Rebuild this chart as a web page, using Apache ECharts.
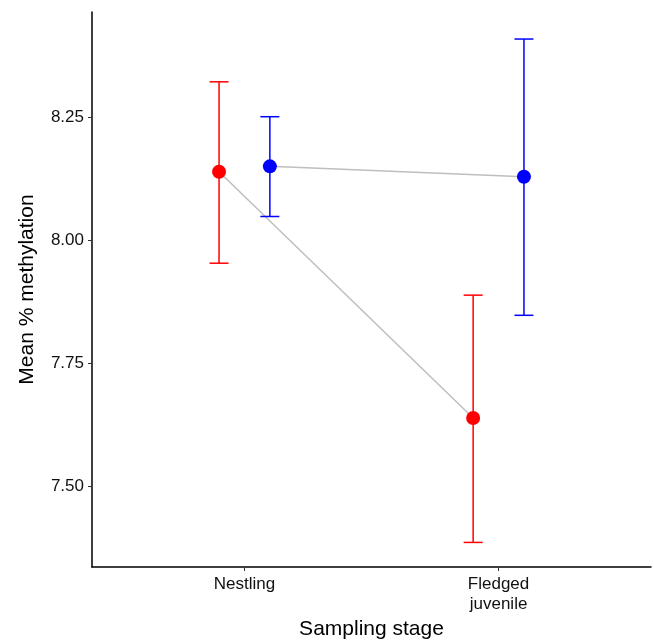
<!DOCTYPE html>
<html>
<head>
<meta charset="utf-8">
<script src="https://cdn.jsdelivr.net/npm/echarts@6/dist/echarts.min.js"></script>
<style>
  html, body { margin: 0; padding: 0; background: #fff; }
  #chart { width: 654px; height: 642px; }
</style>
</head>
<body>
<div id="chart"></div>
<script>
// data
const stages = ["Nestling", "Fledged\njuvenile"];
const yTicks = [7.5, 7.75, 8.0, 8.25];

const redMean = [8.140, 7.639];
const redLow = [7.954, 7.386];
const redHigh = [8.323, 7.889];

const blueMean = [8.151, 8.130];
const blueLow = [8.049, 7.848];
const blueHigh = [8.252, 8.410];

const dodge = 0.1;
const font = "Liberation Sans, Arial, Helvetica, sans-serif";

// x positions: stage index 1,2 shifted for dodge
const pts = (means, shift) => means.map((v, i) => [i + 1 + shift, v]);
const bars = (low, high, shift) => low.map((v, i) => [i + 1 + shift, v, high[i]]);

const errorBar = color => (params, api) => {
  const x = api.value(0);
  const lo = api.coord([x, api.value(1)]);
  const hi = api.coord([x, api.value(2)]);
  const w = 9.5;
  const style = { stroke: color, lineWidth: 1.5 };
  return {
    type: "group",
    children: [
      { type: "line", shape: { x1: lo[0], y1: lo[1], x2: hi[0], y2: hi[1] }, style },
      { type: "line", shape: { x1: lo[0] - w, y1: lo[1], x2: lo[0] + w, y2: lo[1] }, style },
      { type: "line", shape: { x1: hi[0] - w, y1: hi[1], x2: hi[0] + w, y2: hi[1] }, style }
    ]
  };
};

const chart = echarts.init(document.getElementById("chart"));

chart.setOption({
  animation: false,
  grid: { left: 92, right: 3, top: 12, bottom: 75, outerBoundsMode: "none" },
  xAxis: {
    type: "value",
    min: 0.4,
    max: 2.6,
    splitLine: { show: false },
    axisLine: { lineStyle: { color: "#000", width: 1.5 } },
    axisTick: { show: true, customValues: [1, 2], length: 4, lineStyle: { color: "#333" } },
    axisLabel: {
      customValues: [1, 2],
      formatter: v => stages[Math.round(v) - 1],
      color: "#111",
      fontSize: 17,
      fontFamily: font,
      lineHeight: 20,
      margin: 7
    },
    name: "Sampling stage",
    nameLocation: "middle",
    nameGap: 51,
    nameTextStyle: { color: "#000", fontSize: 21, fontFamily: font }
  },
  yAxis: {
    type: "value",
    min: 7.336,
    max: 8.465,
    splitLine: { show: false },
    axisLine: { show: true, lineStyle: { color: "#000", width: 1.5 } },
    axisTick: { show: true, customValues: yTicks, length: 4, lineStyle: { color: "#333" } },
    axisLabel: {
      customValues: yTicks,
      formatter: v => v.toFixed(2),
      color: "#111",
      fontSize: 17,
      fontFamily: font,
      margin: 8
    },
    name: "Mean % methylation",
    nameLocation: "middle",
    nameGap: 54,
    nameTextStyle: { color: "#000", fontSize: 21, fontFamily: font }
  },
  series: [
    {
      type: "line",
      data: pts(redMean, -dodge),
      symbol: "none",
      lineStyle: { color: "#bebebe", width: 1.5 },
      z: 1
    },
    {
      type: "line",
      data: pts(blueMean, dodge),
      symbol: "none",
      lineStyle: { color: "#bebebe", width: 1.5 },
      z: 1
    },
    {
      type: "custom",
      data: bars(redLow, redHigh, -dodge),
      renderItem: errorBar("#ff0000"),
      z: 2
    },
    {
      type: "custom",
      data: bars(blueLow, blueHigh, dodge),
      renderItem: errorBar("#0000ff"),
      z: 2
    },
    {
      type: "scatter",
      data: pts(redMean, -dodge),
      symbolSize: 14,
      itemStyle: { color: "#ff0000", opacity: 1 },
      z: 3
    },
    {
      type: "scatter",
      data: pts(blueMean, dodge),
      symbolSize: 14,
      itemStyle: { color: "#0000ff", opacity: 1 },
      z: 3
    }
  ]
});
</script>
</body>
</html>
